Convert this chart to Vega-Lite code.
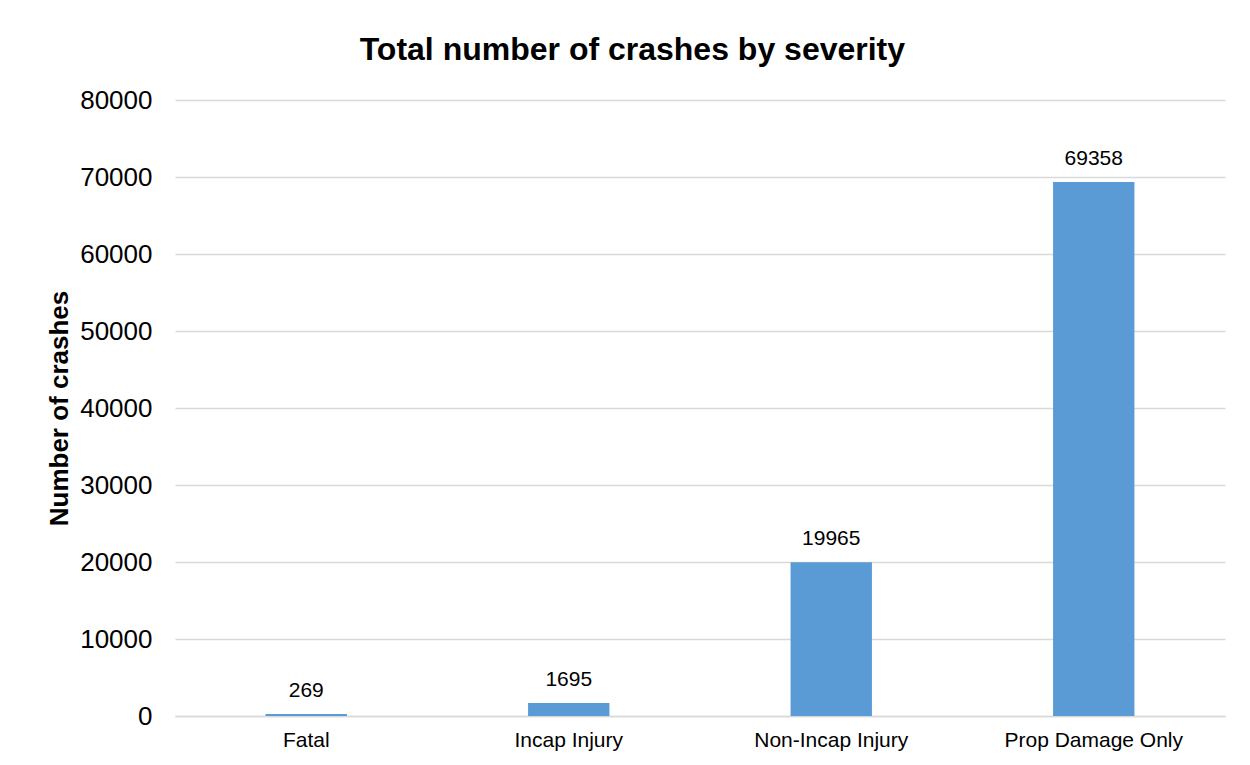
{
  "$schema": "https://vega.github.io/schema/vega-lite/v6.json",
  "autosize": "none",
  "width": 1050,
  "height": 616,
  "padding": {"left": 175, "top": 100, "right": 25, "bottom": 49},
  "background": "white",
  "title": {
    "text": "Total number of crashes by severity",
    "anchor": "start",
    "dx": 313,
    "dy": 45,
    "offset": 40,
    "baseline": "alphabetic",
    "font": "Liberation Sans",
    "fontSize": 32,
    "fontWeight": "bold",
    "color": "#000000"
  },
  "config": {
    "view": {"stroke": null},
    "font": "Liberation Sans"
  },
  "data": {
    "values": [
      {"severity": "Fatal", "crashes": 269},
      {"severity": "Incap Injury", "crashes": 1695},
      {"severity": "Non-Incap Injury", "crashes": 19965},
      {"severity": "Prop Damage Only", "crashes": 69358}
    ]
  },
  "encoding": {
    "x": {
      "field": "severity",
      "type": "nominal",
      "sort": null,
      "scale": {"paddingInner": 0.69, "paddingOuter": 0.345},
      "axis": {
        "title": null,
        "labelAngle": 0,
        "labelFont": "Liberation Sans",
        "labelFontSize": 21,
        "labelColor": "#000000",
        "labelPadding": 13,
        "ticks": false,
        "domain": true,
        "domainColor": "#D9D9D9",
        "domainWidth": 1.5
      }
    },
    "y": {
      "field": "crashes",
      "type": "quantitative",
      "scale": {"domain": [0, 80000]},
      "axis": {
        "title": "Number of crashes",
        "titleFont": "Liberation Sans",
        "titleFontSize": 26,
        "titleFontWeight": "bold",
        "titleColor": "#000000",
        "titlePadding": 7,
        "values": [0, 10000, 20000, 30000, 40000, 50000, 60000, 70000, 80000],
        "format": "d",
        "labelFont": "Liberation Sans",
        "labelFontSize": 26,
        "labelColor": "#000000",
        "labelPadding": 23,
        "ticks": false,
        "domain": false,
        "grid": true,
        "gridColor": "#D9D9D9",
        "gridWidth": 1.5
      }
    }
  },
  "layer": [
    {"mark": {"type": "bar", "color": "#5B9BD5"}},
    {
      "mark": {
        "type": "text",
        "baseline": "alphabetic",
        "dy": -17,
        "font": "Liberation Sans",
        "fontSize": 21,
        "color": "#000000"
      },
      "encoding": {"text": {"field": "crashes", "type": "quantitative", "format": "d"}}
    }
  ]
}
